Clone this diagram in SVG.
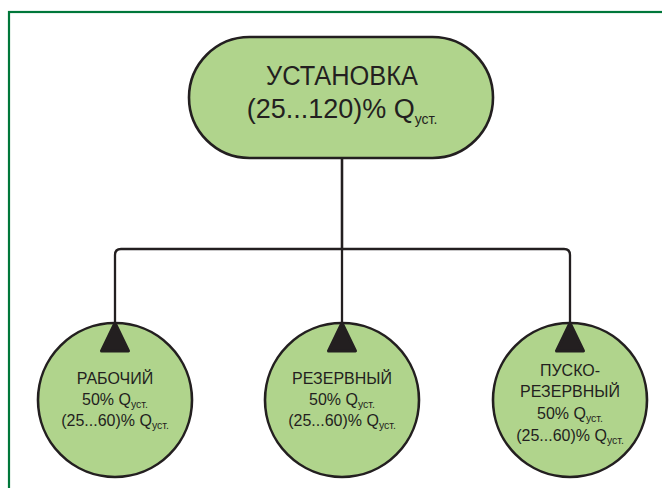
<svg xmlns="http://www.w3.org/2000/svg" width="662" height="488" viewBox="0 0 662 488">
<style>
.node{fill:#b0d48c;stroke:#231f20;stroke-width:2.6}
.conn{fill:none;stroke:#231f20;stroke-width:2.3}
.t{font-family:"Liberation Sans",Arial,sans-serif;fill:#231f20;text-anchor:middle}
.big{font-size:27px}
.sm{font-size:16px}
.sub{font-size:10.5px}
.subbig{font-size:14px}
</style>
<defs>
<marker id="tri" markerUnits="userSpaceOnUse" viewBox="-3 -18 36 36" refX="0" refY="0" markerWidth="36" markerHeight="36" orient="auto">
<polygon points="0,0 28,-13.5 28,13.5" fill="#231f20" stroke="#231f20" stroke-width="3" stroke-linejoin="round"/>
</marker>
</defs>
<rect x="9" y="12" width="720" height="520" fill="none" stroke="#00773a" stroke-width="2.2"/>
<g id="ustanovka">
<rect class="node" x="189" y="37" width="304" height="121" rx="60.5"/>
<text class="t big" x="342" y="85" textLength="152" lengthAdjust="spacingAndGlyphs">УСТАНОВКА</text>
<text class="t big" x="342" y="118">(25...120)% Q<tspan class="subbig" dy="6">уст.</tspan></text>
</g>
<g id="rabochiy">
<circle class="node" cx="115" cy="400" r="77"/>
<text class="t sm" x="115" y="384">РАБОЧИЙ</text>
<text class="t sm" x="115" y="405">50% Q<tspan class="sub" dy="3">уст.</tspan></text>
<text class="t sm" x="115" y="426">(25...60)% Q<tspan class="sub" dy="3">уст.</tspan></text>
</g>
<g id="rezervny">
<circle class="node" cx="342" cy="400" r="77"/>
<text class="t sm" x="342" y="384">РЕЗЕРВНЫЙ</text>
<text class="t sm" x="342" y="405">50% Q<tspan class="sub" dy="3">уст.</tspan></text>
<text class="t sm" x="342" y="426">(25...60)% Q<tspan class="sub" dy="3">уст.</tspan></text>
</g>
<g id="pusko-rezervny">
<circle class="node" cx="570" cy="400" r="77"/>
<text class="t sm" x="570" y="376">ПУСКО-</text>
<text class="t sm" x="570" y="397">РЕЗЕРВНЫЙ</text>
<text class="t sm" x="570" y="419">50% Q<tspan class="sub" dy="3">уст.</tspan></text>
<text class="t sm" x="570" y="441">(25...60)% Q<tspan class="sub" dy="3">уст.</tspan></text>
</g>
<g id="connectors">
<path class="conn" d="M342,159 V249 H121 Q115,249 115,255 V323" marker-end="url(#tri)"/>
<path class="conn" d="M342,159 V323" marker-end="url(#tri)"/>
<path class="conn" d="M342,249 H564 Q570,249 570,255 V323" marker-end="url(#tri)"/>
</g>
</svg>
